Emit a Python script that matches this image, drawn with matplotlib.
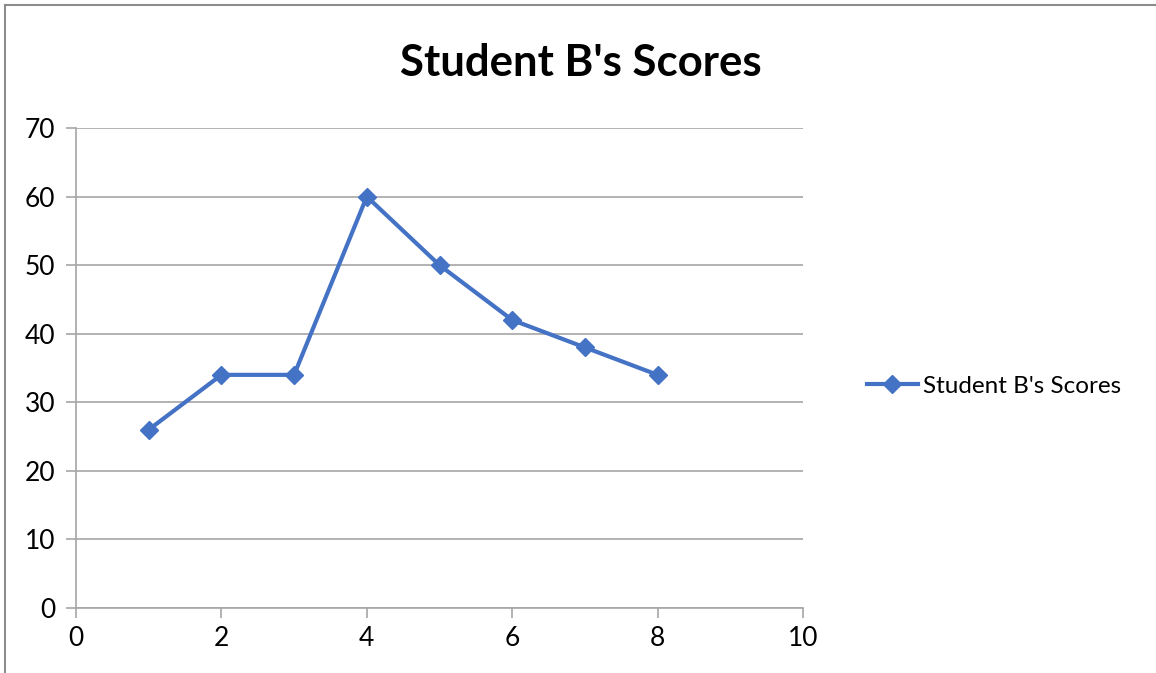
import matplotlib.pyplot as plt
from matplotlib.lines import Line2D

# Data
x = [1, 2, 3, 4, 5, 6, 7, 8]
scores = [26, 34, 34, 60, 50, 42, 38, 34]
label = "Student B's Scores"
xticks = [0, 2, 4, 6, 8, 10]
yticks = [0, 10, 20, 30, 40, 50, 60, 70]

plt.rcParams['font.family'] = ['Lato', 'DejaVu Sans']

fig = plt.figure(figsize=(11.56, 6.73), dpi=100)
ax = fig.add_axes([76/1156, 1 - 608/673, (803-76)/1156, (608-128)/673])

ax.plot(x, scores, color='#4472C4', lw=3, marker='D', ms=9, label=label)

ax.set_xlim(0, 10)
ax.set_ylim(0, 70)
ax.set_xticks(xticks)
ax.set_yticks(yticks)
ax.grid(axis='y', color='#a6a6a6', lw=1.2)
ax.set_axisbelow(True)
for s in ['top', 'right']:
    ax.spines[s].set_visible(False)
for s in ['left', 'bottom']:
    ax.spines[s].set_color('#a6a6a6')
    ax.spines[s].set_linewidth(1.2)
ax.tick_params(axis='both', colors='#a6a6a6', length=7, width=1.2, labelsize=19, labelcolor='black')
ax.tick_params(axis='x', pad=6)
ax.tick_params(axis='y', pad=8)

fig.text(581/1156, 1 - 63/673, label, ha='center', va='center', fontsize=31.5, fontweight='bold')

ax.legend(loc='center left', bbox_to_anchor=(845/1156, 1 - 386/673), bbox_transform=fig.transFigure,
          frameon=False, fontsize=17.5, handlelength=2.1, handletextpad=0.2)

# chart border (top and left edges visible)
fig.add_artist(Line2D([5/1156, 1], [1 - 5/673, 1 - 5/673], transform=fig.transFigure, color='#8c8c8c', lw=1.5))
fig.add_artist(Line2D([5/1156, 5/1156], [0, 1 - 5/673], transform=fig.transFigure, color='#8c8c8c', lw=1.5))

fig.savefig('out.png', dpi=100)
